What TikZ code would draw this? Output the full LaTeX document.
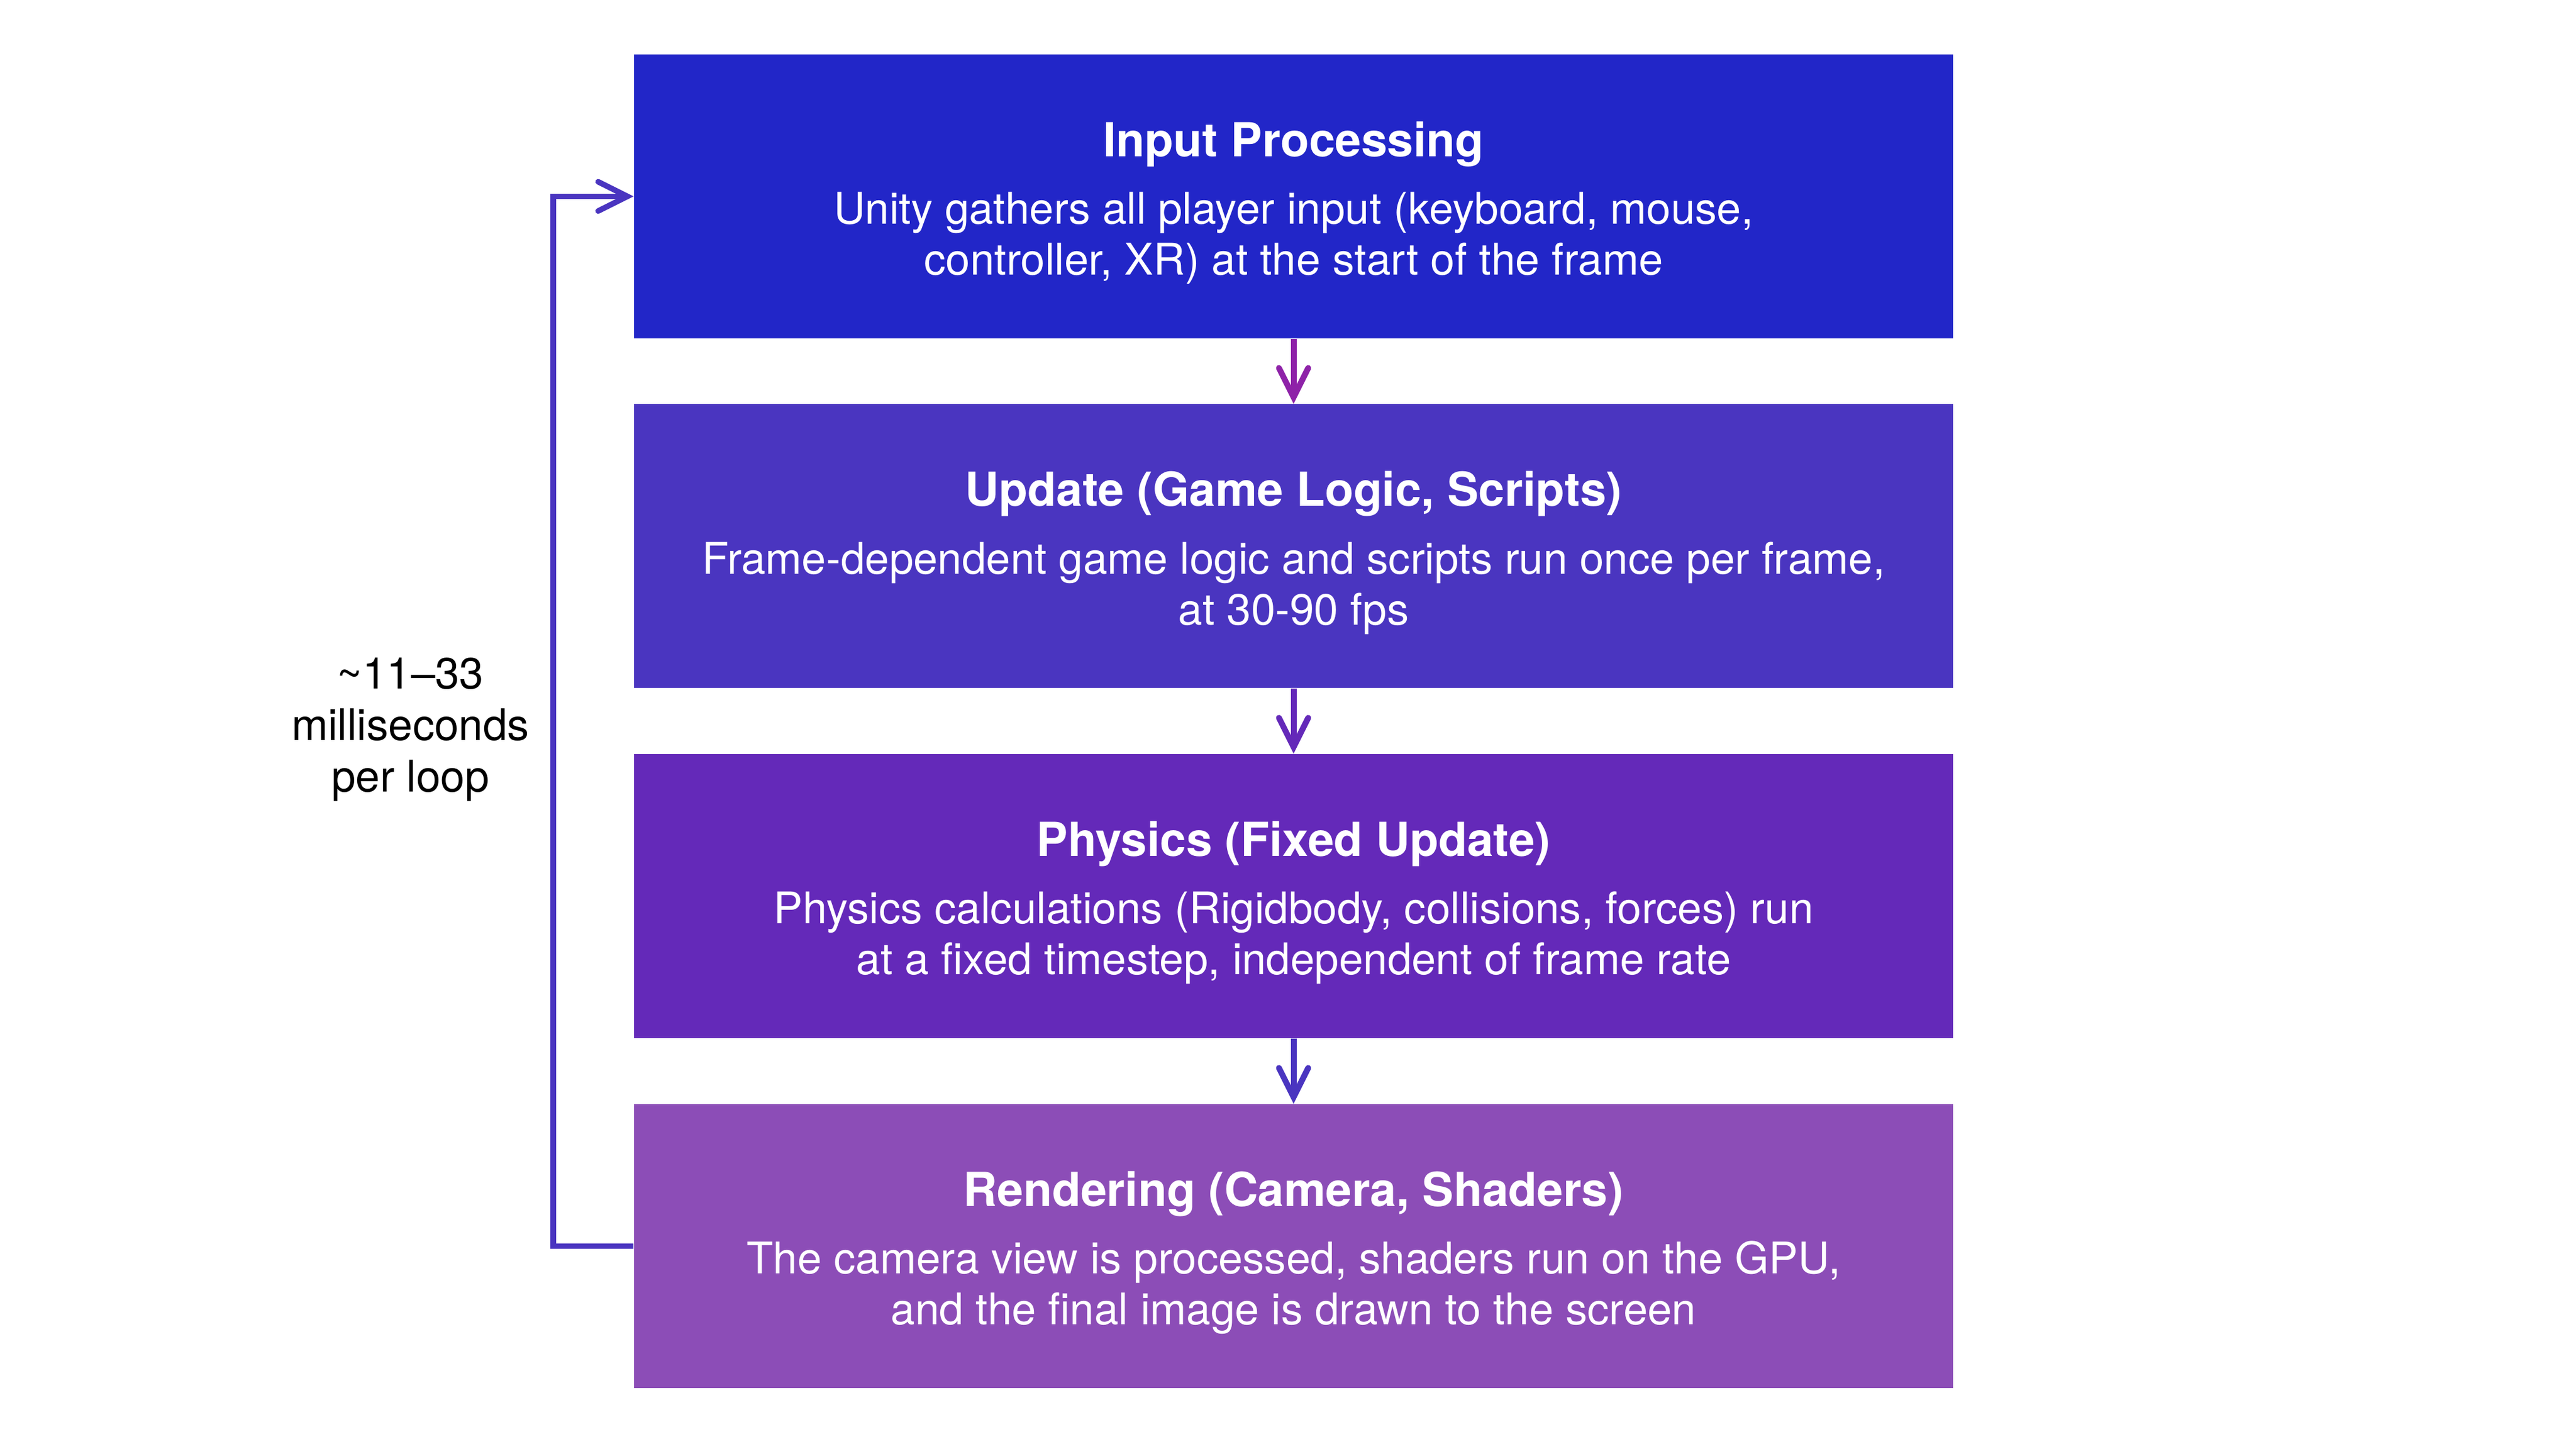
\documentclass[tikz,border=0pt]{standalone}
\usepackage{fontspec}
\setmainfont{TeX Gyre Heros}
\usetikzlibrary{arrows.meta}

\definecolor{inputcol}{RGB}{34,38,200}
\definecolor{updatecol}{RGB}{74,53,192}
\definecolor{physicscol}{RGB}{100,41,185}
\definecolor{rendercol}{RGB}{140,77,183}
\definecolor{firstarrowcol}{RGB}{142,34,168}

\newcommand{\stagetitle}[1]{{\rule{0pt}{0.95cm}\fontsize{22.8}{27}\selectfont\bfseries #1}}
\newcommand{\stageend}{\rule[-0.29cm]{0pt}{0.1pt}}

\tikzset{
  stagebox/.style={fill=#1, minimum width=22.53cm, minimum height=4.85cm,
    inner sep=0pt, text=white, align=center,
    font=\fontsize{21.2}{24.75}\selectfont},
  flowarrow/.style={draw=#1, line width=0.1cm,
    -{Straight Barb[length=0.5cm,width=0.5cm,line cap=round]}},
}

\begin{document}
\begin{tikzpicture}
                \useasboundingbox (0,0) rectangle (44.000000,24.750000);
                
                % Drawing stage boxes
                \node [stagebox=inputcol] (input) at (22.095000,21.395000)
                  {\stagetitle{Input Processing}\\[8pt]
                   Unity gathers all player input (keyboard, mouse,\\
                   controller, XR) at the start of the frame\stageend};%
                \node [stagebox=updatecol] (update) at (22.095000,15.420000)
                  {\stagetitle{Update (Game Logic, Scripts)}\\[8pt]
                   Frame-dependent game logic and scripts run once per frame,\\
                   at 30-90 fps\stageend};%
                \node [stagebox=physicscol] (physics) at (22.095000,9.445000)
                  {\stagetitle{Physics (Fixed Update)}\\[8pt]
                   Physics calculations (Rigidbody, collisions, forces) run\\
                   at a fixed timestep, independent of frame rate\stageend};%
                \node [stagebox=rendercol] (render) at (22.095000,3.465000)
                  {\stagetitle{Rendering (Camera, Shaders)}\\[8pt]
                   The camera view is processed, shaders run on the GPU,\\
                   and the final image is drawn to the screen\stageend};%
                
                % Drawing arrows between stages
                \draw [flowarrow=firstarrowcol] (input.south) -- (update.north);%
                \draw [flowarrow=physicscol] (update.south) -- (physics.north);%
                \draw [flowarrow=updatecol] (physics.south) -- (render.north);%
                
                % Drawing loop back to input
                \coordinate (loopcorner) at (9.450000,3.465000);%
                \draw [flowarrow=updatecol, line width=0.095cm] (render.west) -- (loopcorner) |- (input.west);%
                
                % Marking loop time
                \node [align=center, font=\fontsize{21.2}{25}\selectfont] (looptime) at (7.010000,12.290000)
                  {\textasciitilde 11--33\\ milliseconds\\ per loop};%
                \end{tikzpicture}
\end{document}
